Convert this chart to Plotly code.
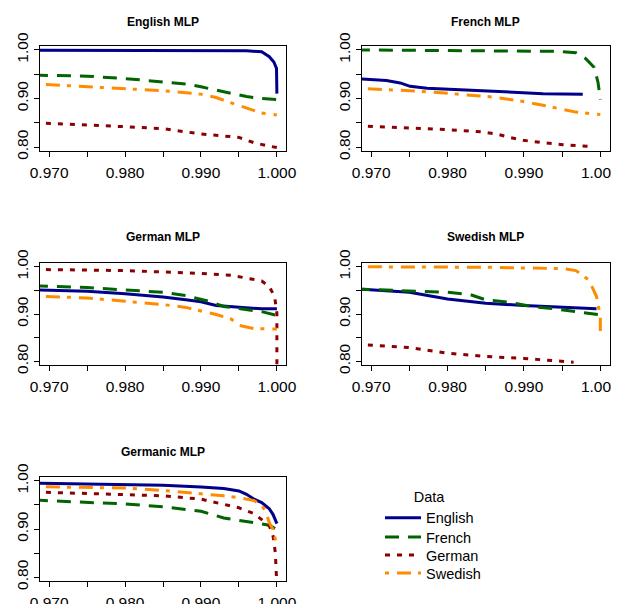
import plotly.graph_objects as go

# ---------------- data ----------------
X_TICKS = [0.970, 0.975, 0.980, 0.985, 0.990, 0.995, 1.000]
X_TICKTEXT = ["0.970", "", "0.980", "", "0.990", "", "1.000"]
Y_TICKS = [0.80, 0.85, 0.90, 0.95, 1.00]
Y_TICKTEXT = ["0.80", "", "0.90", "", "1.00"]

PANEL_TITLES = ["English MLP", "French MLP", "German MLP", "Swedish MLP", "Germanic MLP"]
SERIES = ["English", "French", "German", "Swedish"]

# English MLP panel
eng_english_x = [0.968, 0.980, 0.990, 0.996, 0.998, 0.9990, 0.9996, 0.99995, 1.000]
eng_english_y = [0.9995, 0.9995, 0.9993, 0.998, 0.996, 0.986, 0.975, 0.962, 0.910]
eng_french_x = [0.968, 0.975, 0.980, 0.985, 0.988, 0.990, 0.992, 0.994, 0.996, 0.998, 1.000]
eng_french_y = [0.948, 0.946, 0.941, 0.935, 0.930, 0.924, 0.917, 0.910, 0.904, 0.900, 0.898]
eng_german_x = [0.968, 0.975, 0.980, 0.985, 0.990, 0.995, 0.997, 0.999, 1.000]
eng_german_y = [0.850, 0.846, 0.842, 0.838, 0.827, 0.820, 0.809, 0.802, 0.799]
eng_swedish_x = [0.968, 0.980, 0.985, 0.990, 0.992, 0.994, 0.996, 0.998, 1.000]
eng_swedish_y = [0.930, 0.921, 0.916, 0.909, 0.902, 0.891, 0.881, 0.870, 0.866]

# French MLP panel
fre_english_x = [0.968, 0.972, 0.9738, 0.9751, 0.9773, 0.9799, 0.9825, 0.9851, 0.9881, 0.9925, 0.9977]
fre_english_y = [0.941, 0.937, 0.932, 0.925, 0.921, 0.919, 0.918, 0.915, 0.913, 0.910, 0.909]
fre_french_x = [0.968, 0.985, 0.9942, 0.9968, 0.9981, 0.9992, 0.9997, 1.000]
fre_french_y = [1.000, 0.999, 0.997, 0.994, 0.982, 0.964, 0.933, 0.898]
fre_german_x = [0.968, 0.9751, 0.980, 0.9847, 0.9864, 0.9881, 0.9899, 0.9925, 0.9951, 0.999]
fre_german_y = [0.844, 0.839, 0.836, 0.831, 0.827, 0.820, 0.814, 0.809, 0.805, 0.801]
fre_swedish_x = [0.968, 0.9751, 0.980, 0.9825, 0.986, 0.9899, 0.9925, 0.9951, 0.9968, 1.000]
fre_swedish_y = [0.921, 0.916, 0.911, 0.907, 0.903, 0.894, 0.886, 0.877, 0.872, 0.867]

# German MLP panel
ger_english_x = [0.968, 0.975, 0.980, 0.985, 0.988, 0.990, 0.992, 0.995, 0.998, 1.000]
ger_english_y = [0.951, 0.948, 0.943, 0.936, 0.930, 0.926, 0.918, 0.914, 0.911, 0.911]
ger_french_x = [0.968, 0.975, 0.980, 0.985, 0.988, 0.991, 0.993, 0.996, 0.998, 1.000]
ger_french_y = [0.960, 0.956, 0.951, 0.946, 0.939, 0.927, 0.916, 0.909, 0.905, 0.897]
ger_german_x = [0.968, 0.980, 0.990, 0.994, 0.996, 0.998, 0.999, 0.9997, 1.000, 1.000]
ger_german_y = [0.9944, 0.992, 0.986, 0.982, 0.976, 0.970, 0.958, 0.937, 0.902, 0.780]
ger_swedish_x = [0.968, 0.975, 0.980, 0.985, 0.988, 0.990, 0.992, 0.994, 0.995, 0.997, 0.999, 1.000]
ger_swedish_y = [0.938, 0.934, 0.927, 0.920, 0.914, 0.906, 0.899, 0.889, 0.876, 0.869, 0.868, 0.868]

# Swedish MLP panel
swe_english_x = [0.968, 0.975, 0.980, 0.985, 0.990, 0.995, 0.9995]
swe_english_y = [0.953, 0.946, 0.932, 0.923, 0.918, 0.914, 0.911]
swe_french_x = [0.968, 0.975, 0.980, 0.983, 0.985, 0.988, 0.991, 0.994, 0.997, 1.000]
swe_french_y = [0.953, 0.949, 0.946, 0.941, 0.930, 0.925, 0.916, 0.911, 0.904, 0.898]
swe_german_x = [0.968, 0.975, 0.980, 0.985, 0.990, 0.995, 0.9965]
swe_german_y = [0.836, 0.829, 0.817, 0.810, 0.806, 0.799, 0.798]
swe_swedish_x = [0.968, 0.985, 0.9951, 0.9968, 0.9985, 0.9995, 1.000, 1.000]
swe_swedish_y = [1.000, 0.999, 0.996, 0.992, 0.972, 0.937, 0.895, 0.864]

# Germanic MLP panel
gmc_english_x = [0.968, 0.980, 0.985, 0.990, 0.993, 0.995, 0.996, 0.997, 0.998, 0.999, 0.9995, 1.000]
gmc_english_y = [0.995, 0.993, 0.991, 0.987, 0.984, 0.979, 0.972, 0.962, 0.955, 0.942, 0.930, 0.911]
gmc_french_x = [0.968, 0.980, 0.985, 0.990, 0.993, 0.995, 0.997, 0.999, 1.000]
gmc_french_y = [0.960, 0.952, 0.946, 0.937, 0.923, 0.918, 0.913, 0.908, 0.899]
gmc_german_x = [0.968, 0.980, 0.985, 0.990, 0.993, 0.995, 0.997, 0.998, 0.999, 0.9995, 0.9998, 1.000]
gmc_german_y = [0.977, 0.972, 0.969, 0.962, 0.952, 0.944, 0.932, 0.920, 0.907, 0.885, 0.850, 0.780]
gmc_swedish_x = [0.968, 0.980, 0.985, 0.990, 0.993, 0.995, 0.997, 0.998, 0.9985, 0.999, 0.9995, 1.000]
gmc_swedish_y = [0.988, 0.985, 0.980, 0.974, 0.969, 0.965, 0.959, 0.949, 0.937, 0.913, 0.899, 0.864]

PANEL_DATA = [
    [(eng_english_x, eng_english_y), (eng_french_x, eng_french_y),
     (eng_german_x, eng_german_y), (eng_swedish_x, eng_swedish_y)],
    [(fre_english_x, fre_english_y), (fre_french_x, fre_french_y),
     (fre_german_x, fre_german_y), (fre_swedish_x, fre_swedish_y)],
    [(ger_english_x, ger_english_y), (ger_french_x, ger_french_y),
     (ger_german_x, ger_german_y), (ger_swedish_x, ger_swedish_y)],
    [(swe_english_x, swe_english_y), (swe_french_x, swe_french_y),
     (swe_german_x, swe_german_y), (swe_swedish_x, swe_swedish_y)],
    [(gmc_english_x, gmc_english_y), (gmc_french_x, gmc_french_y),
     (gmc_german_x, gmc_german_y), (gmc_swedish_x, gmc_swedish_y)],
]

# ---------------- style ----------------
COLORS = ["#00008B", "#006400", "#8B0000", "#FF8C00"]
DASHES = ["solid", "14px,9px", "5px,7px", "4px,8px,14px,7px"]
FONT = "Liberation Sans, Arial, Helvetica, sans-serif"
VIEW_W, VIEW_H = 619, 604
PAGE_MARGIN = 8          # default <body> margin of the html page
W, H = VIEW_W - PAGE_MARGIN, VIEW_H - PAGE_MARGIN


def px_x(v):
    return (v - PAGE_MARGIN) / W


def px_y(v):
    return 1 - (v - PAGE_MARGIN) / H


# panel boxes in window pixels: (left, right, top, bottom)
BOXES = [(40, 286, 46, 151), (362, 609.5, 46, 151),
         (40, 286, 263, 365), (362, 609.5, 263, 365),
         (40, 286, 477, 581)]
TITLE_Y = [22, 22, 237, 237, 452]
LEGEND_Y = [518, 537, 555, 573]

fig = go.Figure()
layout = dict(
    width=W, height=H, autosize=False,
    margin=dict(l=0, r=0, t=0, b=0, pad=0, autoexpand=False),
    paper_bgcolor="white", plot_bgcolor="white",
    font=dict(family=FONT, color="black"),
    showlegend=True,
    annotations=[],
)

legend_ids = ["legend", "legend2", "legend3", "legend4"]

for i, (title, series) in enumerate(zip(PANEL_TITLES, PANEL_DATA)):
    n = "" if i == 0 else str(i + 1)
    for j, (xs, ys) in enumerate(series):
        fig.add_trace(go.Scatter(
            x=xs, y=ys, mode="lines", name=SERIES[j],
            line=dict(color=COLORS[j], width=3, dash=DASHES[j]),
            xaxis="x" + n, yaxis="y" + n,
            showlegend=(i == 0), legend=legend_ids[j],
        ))
    l, r, t, b = BOXES[i]
    common = dict(showgrid=False, zeroline=False, showline=True, mirror=True,
                  linecolor="black", linewidth=1, ticks="outside", ticklen=5,
                  tickcolor="black", tickwidth=1, automargin=False,
                  ticklabeloverflow="allow",
                  tickfont=dict(size=15.5, family=FONT))
    layout["xaxis" + n] = dict(
        domain=[px_x(l), px_x(r)], range=[0.9688, 1.0012], anchor="y" + n,
        tickvals=X_TICKS, ticktext=X_TICKTEXT, ticklabelstandoff=2, **common)
    layout["yaxis" + n] = dict(
        domain=[px_y(b), px_y(t)], range=[0.792, 1.008], anchor="x" + n,
        tickvals=Y_TICKS, ticktext=Y_TICKTEXT, tickangle=-90, ticklabelstandoff=0, **common)
    layout["annotations"].append(dict(
        text="<b>" + title + "</b>", x=px_x((l + r) / 2), y=px_y(TITLE_Y[i]),
        xref="paper", yref="paper", xanchor="center", yanchor="middle",
        showarrow=False, font=dict(size=12, family=FONT)))

LEG_X = 380
for j, lid in enumerate(legend_ids):
    leg = dict(
        x=px_x(LEG_X), xanchor="left",
        font=dict(size=14.5, family=FONT), bgcolor="rgba(0,0,0,0)",
        itemwidth=36, borderwidth=0,
    )
    if j == 0:
        leg.update(y=px_y(LEGEND_Y[j] - 35), yanchor="top",
                   title=dict(text="Data", side="top center",
                              font=dict(size=14.5, family=FONT)))
    else:
        leg.update(y=px_y(LEGEND_Y[j]), yanchor="middle")
    layout[lid] = leg

fig.update_layout(**layout)
fig.write_html("out.html")
